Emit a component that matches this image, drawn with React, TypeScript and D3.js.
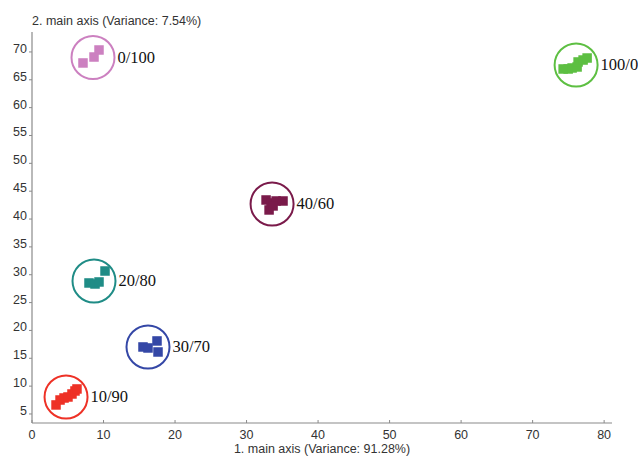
import * as d3 from 'd3';

const W = 638, H = 457;

const GROUPS = ['0/100', '100/0', '40/60', '20/80', '30/70', '10/90'];
const COLORS = ['#cc80c0', '#5dbf42', '#7a1a4a', '#1f8c86', '#3447a6', '#ee3126'];
const CENTERS: [number, number][] = [
  [8.53, 69.0], [76.08, 67.66], [33.57, 42.7], [8.67, 28.88], [16.22, 17.03], [4.76, 8.05],
];
const POINTS: [number, number][][] = [
  [[7.13, 68.02], [8.67, 69.09], [9.37, 70.35]],
  [[74.27, 66.94], [74.97, 66.94], [75.52, 67.12], [76.22, 67.3], [76.36, 68.2], [77.06, 68.55], [77.62, 68.91]],
  [[32.73, 43.42], [33.43, 42.88], [34.13, 43.24], [35.1, 43.24], [33.15, 41.63], [33.71, 42.35]],
  [[7.97, 28.52], [8.81, 28.34], [9.37, 28.7], [10.21, 30.67]],
  [[15.52, 17.03], [16.22, 16.85], [17.48, 18.11], [17.62, 16.13]],
  [[3.36, 6.62], [3.92, 7.51], [4.48, 7.87], [5.03, 8.05], [5.59, 8.59], [6.01, 9.13], [6.29, 9.49]],
];
const X_TICKS = [0, 10, 20, 30, 40, 50, 60, 70, 80];
const Y_TICKS = [5, 10, 15, 20, 25, 30, 35, 40, 45, 50, 55, 60, 65, 70];
const X_TITLE = '1. main axis (Variance: 91.28%)';
const Y_TITLE = '2. main axis (Variance: 7.54%)';

export default function App() {
  const x = d3.scaleLinear().domain([0, 81.1]).range([32, 612]);
  const y = d3.scaleLinear().domain([3.38, 73.58]).range([423, 32]);
  const axisColor = '#8a8a8a';
  const font = 'Liberation Sans, Arial, sans-serif';
  const sq = 9.5, r = 21.5;

  return (
    <svg width={W} height={H} style={{ position: 'absolute', left: 0, top: 0, background: '#fff' }}>
      {/* axes */}
      <line x1={x(0)} x2={x(0)} y1={y.range()[1]} y2={y.range()[0]} stroke={axisColor} strokeWidth={1.2} />
      <line x1={x(0)} x2={x.range()[1]} y1={y.range()[0]} y2={y.range()[0]} stroke={axisColor} strokeWidth={1.2} />
      {Y_TICKS.map((t) => (
        <g key={'y' + t}>
          <line x1={x(0) - 3} x2={x(0)} y1={y(t)} y2={y(t)} stroke={axisColor} />
          <text x={x(0) - 5} y={y(t) + 1} textAnchor="end" fontSize={12.5} fontFamily={font} fill="#333">{t}</text>
        </g>
      ))}
      {X_TICKS.map((t) => (
        <g key={'x' + t}>
          <line x1={x(t)} x2={x(t)} y1={y.range()[0]} y2={y.range()[0] - 3} stroke={axisColor} />
          <text x={x(t)} y={y.range()[0] + 16} textAnchor="middle" fontSize={12.5} fontFamily={font} fill="#333">{t}</text>
        </g>
      ))}
      <text x={x(0)} y={25} fontSize={12.5} fontFamily={font} fill="#333">{Y_TITLE}</text>
      <text x={322} y={y.range()[0] + 30} textAnchor="middle" fontSize={12.5} fontFamily={font} fill="#333">{X_TITLE}</text>

      {/* clusters */}
      {GROUPS.map((g, i) => (
        <g key={g}>
          {POINTS[i].map((p, j) => (
            <rect key={j} x={x(p[0]) - sq / 2} y={y(p[1]) - sq / 2} width={sq} height={sq} fill={COLORS[i]} />
          ))}
          <circle cx={x(CENTERS[i][0])} cy={y(CENTERS[i][1])} r={r} fill="none" stroke={COLORS[i]} strokeWidth={2} />
          <text x={x(CENTERS[i][0]) + r + 3} y={y(CENTERS[i][1]) + 5} fontSize={16.5}
            fontFamily="Liberation Serif, Times New Roman, serif" fill="#111">{g}</text>
        </g>
      ))}
    </svg>
  );
}
